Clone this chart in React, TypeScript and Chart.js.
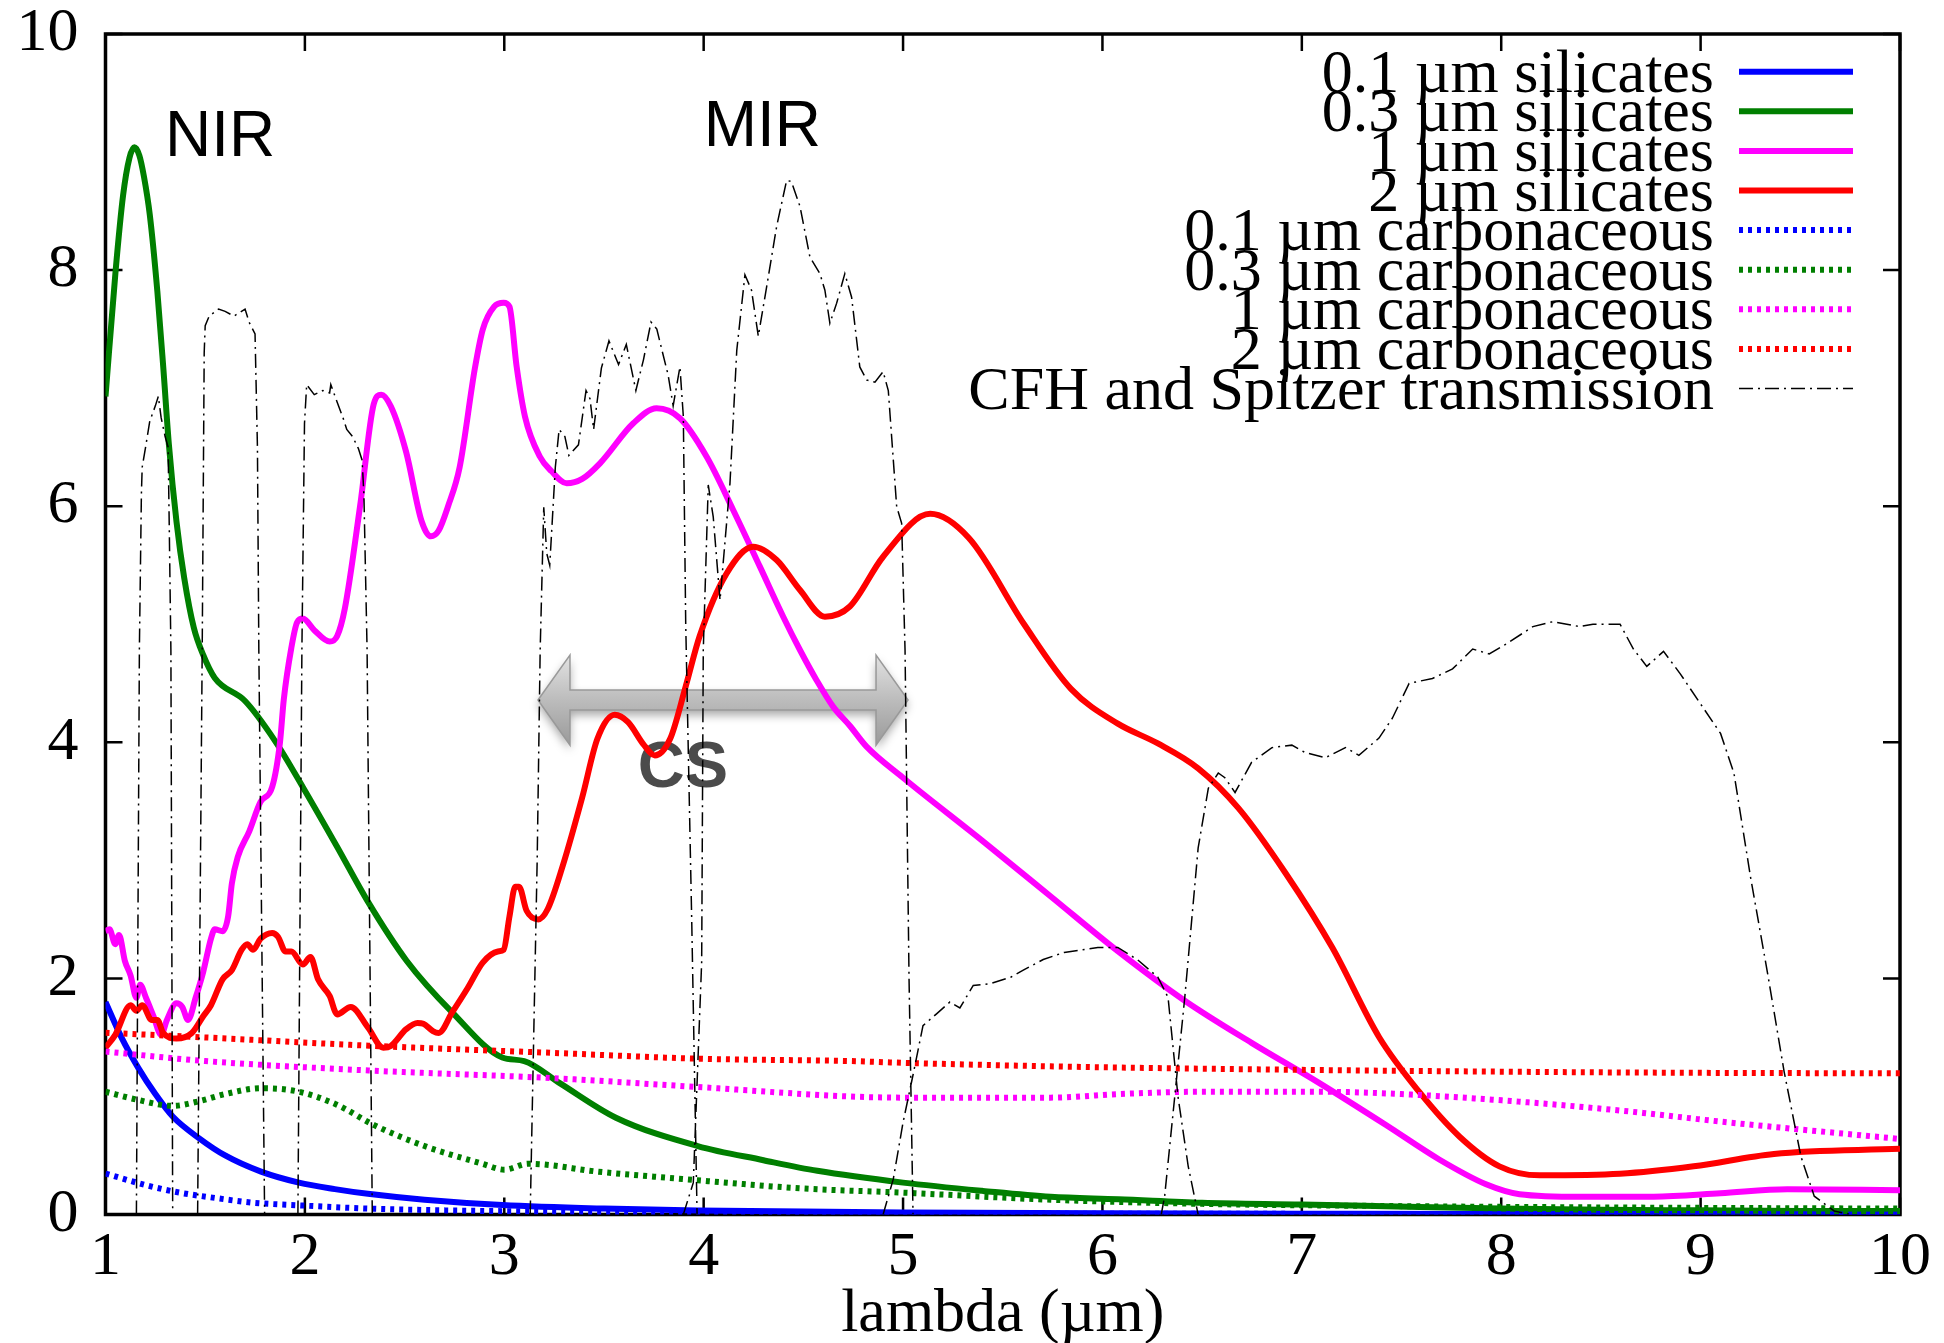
import React, { useEffect, useRef } from "react";
import { Chart, registerables } from "chart.js";
Chart.register(...registerables);

// ---------- ticks ----------
const xTickValues = [1, 2, 3, 4, 5, 6, 7, 8, 9, 10];
const yTickValues = [0, 2, 4, 6, 8, 10];
const xAxisTitle = "lambda (µm)";

// ---------- legend labels ----------
const seriesLabels = [
  "0.1 µm silicates",
  "0.3 µm silicates",
  "1 µm silicates",
  "2 µm silicates",
  "0.1 µm carbonaceous",
  "0.3 µm carbonaceous",
  "1 µm carbonaceous",
  "2 µm carbonaceous",
  "CFH and Spitzer transmission",
];

// ---------- silicates ----------
const sil01X = [1.0, 1.08, 1.165, 1.25, 1.337, 1.47, 1.6, 1.78, 1.97, 2.15, 2.316, 2.6, 2.99, 3.5, 3.97, 4.5, 5, 6, 7, 8, 9, 10];
const sil01Y = [1.8, 1.5, 1.24, 1.02, 0.83, 0.645, 0.5, 0.363, 0.27, 0.215, 0.175, 0.125, 0.08, 0.05, 0.034, 0.025, 0.018, 0.01, 0.006, 0.004, 0.003, 0.002];

const sil03X = [1.0, 1.05, 1.088, 1.12, 1.145, 1.17, 1.193, 1.222, 1.26, 1.29, 1.318, 1.356, 1.395, 1.443, 1.49, 1.548, 1.7, 1.855, 1.99, 2.16, 2.316, 2.51, 2.74, 2.99, 3.1, 3.276, 3.56, 3.97, 4.3, 4.57, 5.0, 5.4, 5.74, 6.08, 6.5, 7.0, 7.42, 8.0, 8.5, 9.0, 9.5, 10];
const sil03Y = [6.93, 7.98, 8.63, 8.95, 9.04, 8.97, 8.79, 8.47, 7.82, 7.17, 6.52, 5.87, 5.39, 4.97, 4.74, 4.545, 4.35, 4.0, 3.62, 3.12, 2.65, 2.15, 1.71, 1.33, 1.3, 1.115, 0.82, 0.58, 0.46, 0.37, 0.27, 0.2, 0.15, 0.13, 0.1, 0.085, 0.07, 0.05, 0.04, 0.035, 0.03, 0.03];

const sil1X = [1.0, 1.02, 1.049, 1.068, 1.097, 1.126, 1.155, 1.174, 1.203, 1.241, 1.279, 1.308, 1.356, 1.385, 1.414, 1.452, 1.49, 1.529, 1.548, 1.587, 1.615, 1.634, 1.663, 1.721, 1.778, 1.836, 1.875, 1.894, 1.932, 1.961, 1.99, 2.047, 2.124, 2.162, 2.2, 2.277, 2.345, 2.383, 2.431, 2.508, 2.585, 2.632, 2.671, 2.719, 2.776, 2.853, 2.892, 2.949, 2.997, 3.026, 3.062, 3.104, 3.179, 3.237, 3.313, 3.391, 3.48, 3.647, 3.764, 3.881, 4.015, 4.148, 4.282, 4.399, 4.483, 4.567, 4.65, 4.733, 4.817, 5.0, 5.406, 5.741, 6.077, 6.413, 6.748, 7.084, 7.42, 7.689, 7.924, 8.092, 8.4, 8.764, 9.1, 9.435, 10];
const sil1Y = [2.4, 2.416, 2.29, 2.368, 2.149, 2.024, 1.836, 1.946, 1.836, 1.679, 1.522, 1.648, 1.789, 1.758, 1.648, 1.836, 2.055, 2.337, 2.416, 2.4, 2.525, 2.807, 3.027, 3.246, 3.497, 3.622, 3.998, 4.36, 4.8, 5.016, 5.048, 4.95, 4.854, 4.9, 5.13, 6.004, 6.864, 6.945, 6.847, 6.458, 5.875, 5.745, 5.794, 6.004, 6.329, 7.172, 7.496, 7.69, 7.723, 7.69, 7.182, 6.758, 6.419, 6.296, 6.194, 6.231, 6.363, 6.702, 6.829, 6.745, 6.419, 5.968, 5.488, 5.064, 4.782, 4.524, 4.3, 4.14, 3.963, 3.7, 3.155, 2.694, 2.231, 1.811, 1.454, 1.117, 0.76, 0.466, 0.256, 0.172, 0.15, 0.151, 0.18, 0.214, 0.206];

const sil2X = [1.0, 1.049, 1.126, 1.155, 1.184, 1.232, 1.26, 1.289, 1.356, 1.433, 1.49, 1.529, 1.587, 1.634, 1.683, 1.711, 1.74, 1.778, 1.836, 1.865, 1.903, 1.932, 1.99, 2.028, 2.066, 2.124, 2.162, 2.23, 2.316, 2.393, 2.431, 2.508, 2.565, 2.594, 2.642, 2.671, 2.738, 2.815, 2.892, 2.968, 2.997, 3.026, 3.055, 3.074, 3.112, 3.17, 3.218, 3.295, 3.39, 3.467, 3.554, 3.621, 3.698, 3.755, 3.832, 3.909, 3.98, 4.115, 4.249, 4.366, 4.483, 4.608, 4.733, 4.9, 5.136, 5.33, 5.607, 5.842, 6.077, 6.278, 6.48, 6.682, 6.917, 7.152, 7.387, 7.588, 7.79, 7.991, 8.193, 8.596, 8.965, 9.368, 10];
const sil2Y = [1.413, 1.522, 1.773, 1.726, 1.773, 1.648, 1.648, 1.538, 1.491, 1.538, 1.679, 1.773, 1.992, 2.071, 2.243, 2.29, 2.243, 2.337, 2.385, 2.353, 2.228, 2.228, 2.118, 2.181, 1.992, 1.852, 1.695, 1.758, 1.585, 1.413, 1.428, 1.57, 1.623, 1.616, 1.554, 1.538, 1.71, 1.914, 2.134, 2.228, 2.243, 2.525, 2.776, 2.776, 2.573, 2.5, 2.588, 2.964, 3.528, 4.03, 4.234, 4.171, 3.983, 3.889, 4.03, 4.468, 4.9, 5.43, 5.657, 5.544, 5.29, 5.064, 5.15, 5.572, 5.935, 5.73, 5.0, 4.453, 4.158, 3.99, 3.779, 3.442, 2.895, 2.263, 1.504, 1.04, 0.661, 0.408, 0.332, 0.345, 0.408, 0.513, 0.556];

// ---------- carbonaceous ----------
const car01X = [1.0, 1.2, 1.356, 1.55, 1.74, 2.0, 2.32, 2.7, 3.2, 4.0, 5.0, 6.0, 8.0, 10];
const car01Y = [0.347, 0.25, 0.19, 0.14, 0.1, 0.075, 0.05, 0.035, 0.025, 0.015, 0.01, 0.007, 0.004, 0.003];

const car03X = [1.0, 1.165, 1.337, 1.47, 1.6, 1.78, 1.97, 2.16, 2.35, 2.6, 2.89, 3.0, 3.12, 3.47, 3.97, 4.5, 5.0, 5.74, 6.5, 7.42, 8.5, 10];
const car03Y = [1.04, 0.97, 0.92, 0.96, 1.02, 1.07, 1.04, 0.93, 0.755, 0.58, 0.43, 0.38, 0.43, 0.363, 0.29, 0.22, 0.185, 0.125, 0.09, 0.072, 0.06, 0.05];

const car1X = [1.0, 1.5, 2.32, 3.23, 3.97, 4.73, 5.0, 5.74, 6.08, 6.5, 7.08, 7.5, 8.09, 8.6, 9.1, 9.5, 10];
const car1Y = [1.38, 1.3, 1.22, 1.156, 1.08, 1.0, 0.99, 0.99, 1.02, 1.04, 1.04, 1.02, 0.956, 0.88, 0.787, 0.72, 0.64];

const car2X = [1.0, 1.5, 2.32, 3.23, 3.97, 4.73, 5.0, 5.74, 6.75, 8.0, 9.0, 10];
const car2Y = [1.54, 1.5, 1.43, 1.37, 1.32, 1.3, 1.285, 1.255, 1.23, 1.21, 1.2, 1.196];

// ---------- filter transmissions ----------
const bandJX = [1.155, 1.17, 1.18, 1.184, 1.203, 1.222, 1.25, 1.265, 1.279, 1.299, 1.314, 1.32, 1.328, 1.337];
const bandJY = [0, 4.8, 6.1, 6.33, 6.52, 6.72, 6.85, 6.93, 6.75, 6.59, 6.5, 5.8, 4.78, 0];
const bandHX = [1.462, 1.485, 1.495, 1.5, 1.52, 1.567, 1.6, 1.644, 1.7, 1.72, 1.75, 1.762, 1.769, 1.798];
const bandHY = [0, 4.78, 7.3, 7.53, 7.61, 7.67, 7.65, 7.61, 7.67, 7.56, 7.46, 6.5, 4.78, 0];
const bandKX = [1.965, 1.985, 1.998, 2.009, 2.047, 2.09, 2.124, 2.13, 2.162, 2.191, 2.21, 2.239, 2.268, 2.287, 2.296, 2.312, 2.338];
const bandKY = [0, 4.78, 6.7, 7.03, 6.945, 6.98, 6.96, 7.03, 6.88, 6.75, 6.65, 6.59, 6.49, 6.39, 6.1, 4.78, 0];
const irac1X = [3.13, 3.165, 3.18, 3.198, 3.213, 3.228, 3.256, 3.275, 3.304, 3.324, 3.372, 3.41, 3.43, 3.448, 3.487, 3.525, 3.573, 3.612, 3.66, 3.698, 3.736, 3.765, 3.794, 3.822, 3.847, 3.881, 3.898, 3.91, 3.94, 3.967];
const irac1Y = [0, 3.0, 4.78, 5.99, 5.6, 5.5, 6.33, 6.65, 6.59, 6.43, 6.52, 6.98, 6.91, 6.65, 7.17, 7.4, 7.2, 7.37, 6.98, 7.24, 7.56, 7.5, 7.3, 7.11, 6.85, 7.18, 6.76, 5.0, 2.5, 0];
const irac2X = [3.898, 3.948, 3.99, 3.998, 4.023, 4.048, 4.082, 4.132, 4.166, 4.207, 4.24, 4.274, 4.316, 4.366, 4.416, 4.44, 4.483, 4.533, 4.583, 4.608, 4.633, 4.667, 4.708, 4.742, 4.783, 4.817, 4.859, 4.9, 4.926, 4.968, 4.993, 5.01, 5.03, 5.05];
const irac2Y = [0, 0.27, 2.14, 4.78, 6.18, 5.91, 5.205, 6.194, 7.32, 7.96, 7.83, 7.44, 7.86, 8.37, 8.76, 8.75, 8.54, 8.11, 7.97, 7.83, 7.55, 7.72, 7.97, 7.77, 7.18, 7.07, 7.05, 7.14, 6.98, 5.996, 5.855, 4.78, 2.0, 0];
const irac3X = [4.9, 4.951, 5.0, 5.051, 5.1, 5.168, 5.235, 5.285, 5.352, 5.436, 5.54, 5.603, 5.703, 5.808, 5.977, 6.077, 6.177, 6.278, 6.329, 6.379, 6.43, 6.48];
const irac3Y = [0, 0.3, 0.78, 1.19, 1.6, 1.7, 1.8, 1.75, 1.94, 1.955, 2.01, 2.07, 2.16, 2.22, 2.262, 2.262, 2.157, 2.01, 1.84, 0.998, 0.41, 0];
const irac4X = [6.295, 6.312, 6.413, 6.48, 6.531, 6.581, 6.614, 6.665, 6.748, 6.85, 6.95, 7.017, 7.118, 7.219, 7.286, 7.387, 7.454, 7.538, 7.655, 7.756, 7.857, 7.94, 8.025, 8.159, 8.26, 8.394, 8.46, 8.596, 8.663, 8.73, 8.814, 8.898, 8.999, 9.1, 9.167, 9.251, 9.335, 9.419, 9.503, 9.57, 9.67, 9.75];
const irac4Y = [0, 0.155, 1.84, 3.105, 3.61, 3.74, 3.7, 3.575, 3.83, 3.955, 3.976, 3.913, 3.87, 3.955, 3.89, 4.036, 4.204, 4.499, 4.541, 4.622, 4.79, 4.748, 4.833, 4.98, 5.022, 4.98, 5.0, 5.0, 4.79, 4.643, 4.77, 4.58, 4.327, 4.075, 3.74, 2.852, 2.052, 1.209, 0.492, 0.155, 0.03, 0];

// ---------- annotations (data units) ----------
const regionLabels = ["NIR", "MIR"];
const regionLabelX = [1.298, 4.0];
const regionLabelY = [8.97, 9.05];
const csLabel = "CS";
const csLabelX = 3.67;
const csLabelY = 3.62;
const arrowFromX = 3.169;
const arrowToX = 5.025;
const arrowAtY = 4.358;

const SERIF = '"Liberation Serif", "Times New Roman", serif';
const SANS = '"Liberation Sans", Arial, sans-serif';

const pts = (xs: number[], ys: number[]) => xs.map((x, i) => ({ x, y: ys[i] }));

const bands = [
  [bandJX, bandJY],
  [bandHX, bandHY],
  [bandKX, bandKY],
  [irac1X, irac1Y],
  [irac2X, irac2Y],
  [irac3X, irac3Y],
  [irac4X, irac4Y],
];

function transmissionPoints() {
  const out: any[] = [];
  bands.forEach(([xs, ys]) => {
    out.push(...pts(xs, ys));
    out.push({ x: xs[xs.length - 1], y: null });
  });
  return out;
}

const framePlugin = {
  id: "frameAndArrow",
  beforeDatasetsDraw(chart: any) {
    const { ctx, chartArea: a, scales } = chart;
    const xs = scales.x, ys = scales.y;
    ctx.save();
    // arrow (under the curves)
    const x1 = xs.getPixelForValue(arrowFromX);
    const x2 = xs.getPixelForValue(arrowToX);
    const yc = ys.getPixelForValue(arrowAtY);
    const headL = 32, headH = 45, shaftH = 10;
    ctx.beginPath();
    ctx.moveTo(x1, yc);
    ctx.lineTo(x1 + headL, yc - headH);
    ctx.lineTo(x1 + headL, yc - shaftH);
    ctx.lineTo(x2 - headL, yc - shaftH);
    ctx.lineTo(x2 - headL, yc - headH);
    ctx.lineTo(x2, yc);
    ctx.lineTo(x2 - headL, yc + headH);
    ctx.lineTo(x2 - headL, yc + shaftH);
    ctx.lineTo(x1 + headL, yc + shaftH);
    ctx.lineTo(x1 + headL, yc + headH);
    ctx.closePath();
    const g = ctx.createLinearGradient(0, yc - headH, 0, yc + headH);
    g.addColorStop(0, "#e2e2e2");
    g.addColorStop(0.5, "#bcbcbc");
    g.addColorStop(1, "#9a9a9a");
    ctx.shadowColor = "rgba(0,0,0,0.35)";
    ctx.shadowBlur = 10;
    ctx.shadowOffsetY = 5;
    ctx.fillStyle = g;
    ctx.fill();
    ctx.shadowColor = "transparent";
    ctx.lineWidth = 1.5;
    ctx.strokeStyle = "#999";
    ctx.stroke();
    // CS label
    ctx.fillStyle = "#4b4b4b";
    ctx.font = `bold 65px ${SANS}`;
    ctx.textAlign = "left";
    ctx.textBaseline = "alphabetic";
    ctx.fillText(csLabel, xs.getPixelForValue(csLabelX), ys.getPixelForValue(csLabelY));
    // frame
    ctx.strokeStyle = "#000";
    ctx.lineWidth = 3.5;
    ctx.strokeRect(a.left, a.top, a.right - a.left, a.bottom - a.top);
    // inward ticks on all four sides
    ctx.lineWidth = 2.5;
    const tl = 17;
    xTickValues.forEach((v) => {
      const p = xs.getPixelForValue(v);
      ctx.beginPath();
      ctx.moveTo(p, a.bottom);
      ctx.lineTo(p, a.bottom - tl);
      ctx.moveTo(p, a.top);
      ctx.lineTo(p, a.top + tl);
      ctx.stroke();
    });
    yTickValues.forEach((v) => {
      const p = ys.getPixelForValue(v);
      ctx.beginPath();
      ctx.moveTo(a.left, p);
      ctx.lineTo(a.left + tl, p);
      ctx.moveTo(a.right, p);
      ctx.lineTo(a.right - tl, p);
      ctx.stroke();
    });
    ctx.restore();
  },
  afterDatasetsDraw(chart: any) {
    const { ctx, chartArea: a, scales } = chart;
    const xs = scales.x, ys = scales.y;
    ctx.save();
    // region labels
    ctx.fillStyle = "#000";
    ctx.font = `64px ${SANS}`;
    ctx.textAlign = "left";
    ctx.textBaseline = "alphabetic";
    regionLabels.forEach((t, i) => {
      ctx.fillText(t, xs.getPixelForValue(regionLabelX[i]), ys.getPixelForValue(regionLabelY[i]));
    });
    // key
    const textRight = a.right - 186;
    const s1 = a.right - 161;
    const s2 = a.right - 47;
    ctx.font = `62px ${SERIF}`;
    ctx.textAlign = "right";
    chart.data.datasets.forEach((ds: any, i: number) => {
      const ry = a.top + 37.7 + 39.6 * i;
      ctx.fillStyle = "#000";
      ctx.fillText(ds.label, textRight, ry + 20);
      ctx.beginPath();
      ctx.setLineDash(ds.borderDash || []);
      ctx.lineWidth = ds.borderWidth;
      ctx.strokeStyle = ds.borderColor;
      ctx.lineCap = "butt";
      ctx.moveTo(s1, ry);
      ctx.lineTo(s2, ry);
      ctx.stroke();
    });
    ctx.restore();
  },
};

export default function App() {
  const ref = useRef<HTMLCanvasElement | null>(null);
  useEffect(() => {
    if (!ref.current) return;
    const solid = (label: string, color: string, xs: number[], ys: number[]) => ({
      label, data: pts(xs, ys), borderColor: color, backgroundColor: color,
      borderWidth: 6, borderDash: [], cubicInterpolationMode: "monotone", fill: false,
    });
    const dotted = (label: string, color: string, xs: number[], ys: number[]) => ({
      label, data: pts(xs, ys), borderColor: color, backgroundColor: color,
      borderWidth: 6, borderDash: [4, 5], borderCapStyle: "butt", cubicInterpolationMode: "monotone", fill: false,
    });
    const datasets: any[] = [
      solid(seriesLabels[0], "#0000ff", sil01X, sil01Y),
      solid(seriesLabels[1], "#007f00", sil03X, sil03Y),
      solid(seriesLabels[2], "#ff00ff", sil1X, sil1Y),
      solid(seriesLabels[3], "#ff0000", sil2X, sil2Y),
      dotted(seriesLabels[4], "#0000ff", car01X, car01Y),
      dotted(seriesLabels[5], "#007f00", car03X, car03Y),
      dotted(seriesLabels[6], "#ff00ff", car1X, car1Y),
      dotted(seriesLabels[7], "#ff0000", car2X, car2Y),
      {
        label: seriesLabels[8], data: transmissionPoints(), borderColor: "#000", backgroundColor: "#000",
        borderWidth: 1.5, borderDash: [14, 5, 2, 5], tension: 0, spanGaps: false, fill: false,
      },
    ];
    datasets.forEach((d, i) => (d.order = datasets.length - i));

    const chart = new Chart(ref.current, {
      type: "line",
      data: { datasets },
      options: {
        animation: false,
        responsive: true,
        maintainAspectRatio: false,
        devicePixelRatio: 1,
        layout: { padding: { top: 34, right: 44, left: 0, bottom: 0 } },
        elements: { point: { radius: 0, hoverRadius: 0 } },
        plugins: { legend: { display: false }, tooltip: { enabled: false } },
        scales: {
          x: {
            type: "linear",
            min: 1,
            max: 10,
            afterFit: (s: any) => { s.height = 128.5; },
            afterBuildTicks: (s: any) => { s.ticks = xTickValues.map((v) => ({ value: v })); },
            grid: { display: false, drawTicks: true, tickLength: 12 },
            border: { display: false },
            ticks: {
              color: "#000", padding: 0, maxRotation: 0, autoSkip: false,
              font: { family: SERIF, size: 62, lineHeight: 1.0 },
            },
            title: {
              display: true, text: xAxisTitle, color: "#000", padding: 0,
              font: { family: SERIF, size: 62, lineHeight: 0.9 },
            },
          },
          y: {
            type: "linear",
            min: 0,
            max: 10,
            afterFit: (s: any) => { s.width = 105.5; },
            afterBuildTicks: (s: any) => { s.ticks = yTickValues.map((v) => ({ value: v })); },
            grid: { display: false, drawTicks: true, tickLength: 27 },
            border: { display: false },
            ticks: {
              color: "#000", padding: 0, autoSkip: false,
              font: { family: SERIF, size: 62, lineHeight: 1.0 },
            },
          },
        },
      } as any,
      plugins: [framePlugin],
    });
    return () => chart.destroy();
  }, []);

  return (
    <div style={{ position: "absolute", left: 0, top: 0, width: 1944, height: 1343, background: "#fff" }}>
      <canvas ref={ref} />
    </div>
  );
}
